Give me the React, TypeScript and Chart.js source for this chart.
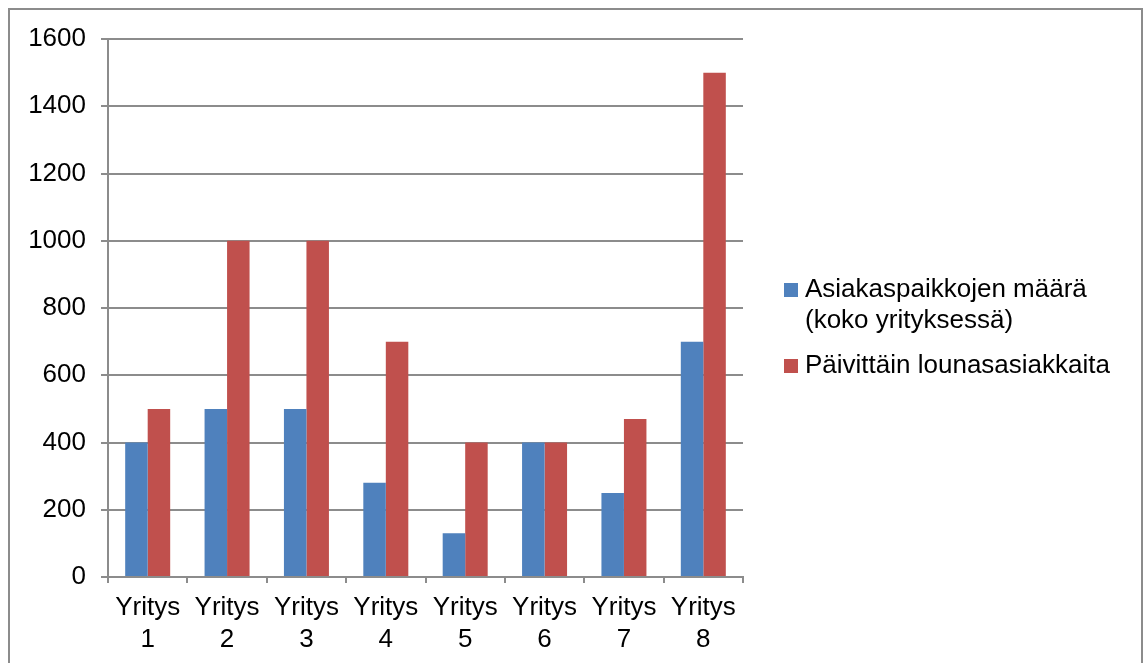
import React, { useEffect, useRef } from "react";
import { Chart, registerables } from "chart.js";

Chart.register(...registerables);

const categories: string[][] = [
  ["Yritys", "1"],
  ["Yritys", "2"],
  ["Yritys", "3"],
  ["Yritys", "4"],
  ["Yritys", "5"],
  ["Yritys", "6"],
  ["Yritys", "7"],
  ["Yritys", "8"],
];

const seatsLabel: string[] = ["Asiakaspaikkojen määrä", "(koko yrityksessä)"];
const seatsValues: number[] = [400, 500, 500, 280, 130, 400, 250, 700];

const lunchLabel: string[] = ["Päivittäin lounasasiakkaita"];
const lunchValues: number[] = [500, 1000, 1000, 700, 400, 400, 470, 1500];

const yMin = 0;
const yMax = 1600;
const yStep = 200;

const FONT = "'Liberation Sans', Arial, sans-serif";
const FONT_SIZE = 26;
const GRID = "#8c8c8c";
const GRID_W = 2;

const legendPlugin = {
  id: "customLegend",
  afterDraw(chart: any) {
    const ctx = chart.ctx;
    const items = [
      { lines: seatsLabel, color: chart.data.datasets[0].backgroundColor, top: 290 },
      { lines: lunchLabel, color: chart.data.datasets[1].backgroundColor, top: 366 },
    ];
    ctx.save();
    ctx.font = `${FONT_SIZE}px ${FONT}`;
    ctx.textBaseline = "middle";
    ctx.textAlign = "left";
    items.forEach((it) => {
      ctx.fillStyle = it.color;
      ctx.fillRect(784, it.top - 7, 14, 14);
      ctx.fillStyle = "#000";
      it.lines.forEach((ln: string, i: number) => {
        ctx.fillText(ln, 805, it.top + i * 31);
      });
    });
    ctx.restore();
  },
};

const borderPlugin = {
  id: "outerBorder",
  beforeDraw(chart: any) {
    const ctx = chart.ctx;
    ctx.save();
    ctx.fillStyle = "#fff";
    ctx.fillRect(0, 0, chart.width, chart.height);
    ctx.strokeStyle = "#8c8c8c";
    ctx.lineWidth = 2;
    ctx.strokeRect(9, 9, 1133, 720);
    ctx.restore();
  },
};

export default function App() {
  const ref = useRef<HTMLCanvasElement | null>(null);

  useEffect(() => {
    document.body.style.margin = "0";
    if (!ref.current) return;
    const chart = new Chart(ref.current, {
      type: "bar",
      data: {
        labels: categories,
        datasets: [
          {
            label: seatsLabel.join(" "),
            data: seatsValues,
            backgroundColor: "#4F81BD",
            categoryPercentage: 0.567,
            barPercentage: 1,
          },
          {
            label: lunchLabel.join(" "),
            data: lunchValues,
            backgroundColor: "#C0504D",
            categoryPercentage: 0.567,
            barPercentage: 1,
          },
        ],
      },
      options: {
        responsive: false,
        animation: false,
        layout: { padding: { left: 0, top: 39, right: 401, bottom: 0 } },
        plugins: {
          legend: { display: false },
          tooltip: { enabled: false },
        },
        scales: {
          x: {
            afterFit: (scale: any) => {
              scale.height = 86;
            },
            grid: {
              display: true,
              drawOnChartArea: false,
              offset: true,
              tickLength: 6,
              color: GRID,
              lineWidth: GRID_W,
            },
            border: { display: true, color: GRID, width: GRID_W },
            ticks: {
              color: "#000",
              font: { family: FONT, size: FONT_SIZE, lineHeight: 1.23 },
              maxRotation: 0,
              minRotation: 0,
              autoSkip: false,
              padding: 9,
            },
          },
          y: {
            min: yMin,
            max: yMax,
            afterFit: (scale: any) => {
              scale.width = 108;
            },
            grid: {
              color: GRID,
              lineWidth: GRID_W,
              tickLength: 7,
            },
            border: { display: true, color: GRID, width: GRID_W },
            ticks: {
              stepSize: yStep,
              color: "#000",
              font: { family: FONT, size: FONT_SIZE },
              padding: 15,
              callback: (v: any) => String(v),
            },
          },
        },
      },
      plugins: [borderPlugin, legendPlugin],
    });
    return () => chart.destroy();
  }, []);

  return <canvas ref={ref} width={1144} height={663} style={{ display: "block" }} />;
}
